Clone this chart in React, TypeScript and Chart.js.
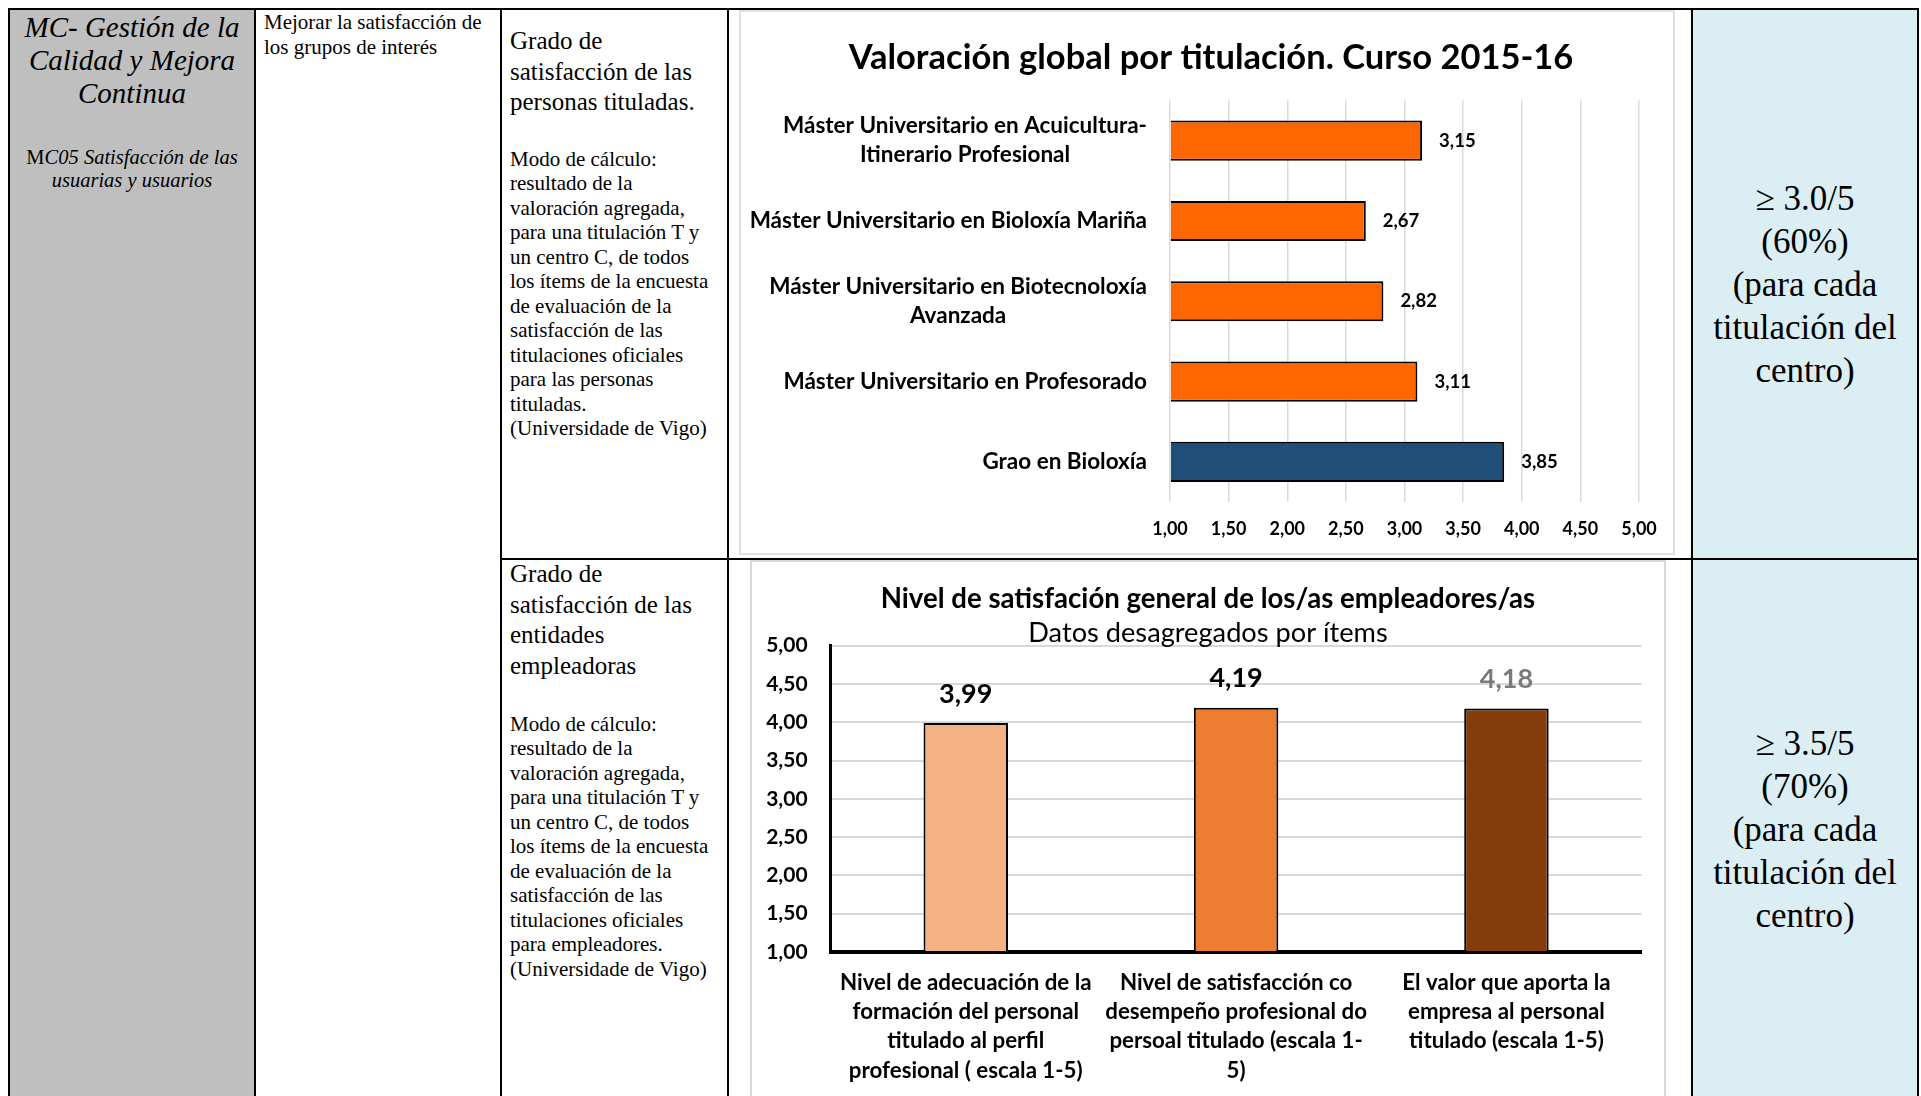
import React, { useEffect, useRef } from "react";
import { Chart, registerables } from "chart.js";
Chart.register(...registerables);

// ---------- Chart 1 data ----------
const T1_TITLE = "Valoración global por titulación. Curso 2015-16";
const T1_LABELS: string[][] = [
  ["Máster Universitario en Acuicultura-", "Itinerario Profesional"],
  ["Máster Universitario en Bioloxía Mariña"],
  ["Máster Universitario en Biotecnoloxía", "Avanzada"],
  ["Máster Universitario en Profesorado"],
  ["Grao en Bioloxía"],
];
const T1_VALUES = [3.15, 2.67, 2.82, 3.11, 3.85];
const T1_COLORS = ["#FF6600", "#FF6600", "#FF6600", "#FF6600", "#1F4E79"];
const T1_TICKS = ["1,00", "1,50", "2,00", "2,50", "3,00", "3,50", "4,00", "4,50", "5,00"];

// ---------- Chart 2 data ----------
const T2_TITLE = "Nivel de satisfación general de los/as empleadores/as";
const T2_SUBTITLE = "Datos desagregados por ítems";
const T2_LABELS: string[][] = [
  ["Nivel de adecuación de la", "formación del personal", "titulado al perfil", "profesional ( escala 1-5)"],
  ["Nivel de satisfacción co", "desempeño profesional do", "persoal titulado (escala 1-", "5)"],
  ["El valor que aporta la", "empresa al personal", "titulado (escala 1-5)"],
];
const T2_VALUES = [3.99, 4.19, 4.18];
const T2_COLORS = ["#F4B183", "#ED7D31", "#843C0C"];
const T2_VALUE_COLORS = ["#000000", "#000000", "#7A7A7A"];
const T2_TICKS = ["1,00", "1,50", "2,00", "2,50", "3,00", "3,50", "4,00", "4,50", "5,00"];

const fmt = (v: number) => v.toFixed(2).replace(".", ",");
const CF = "Lato, 'Open Sans', sans-serif";

const chart1Labels = {
  id: "c1labels",
  afterDatasetsDraw(chart: any) {
    const ctx = chart.ctx;
    const meta = chart.getDatasetMeta(0);
    const yScale = chart.scales.y;
    ctx.save();
    ctx.fillStyle = "#000";
    ctx.font = `bold 18.5px ${CF}`;
    ctx.textBaseline = "middle";
    ctx.textAlign = "left";
    meta.data.forEach((bar: any, i: number) => {
      ctx.fillText(fmt(T1_VALUES[i]), bar.x + 17, bar.y);
    });
    ctx.font = `bold 22.5px ${CF}`;
    ctx.textAlign = "center";
    const right = chart.chartArea.left - 23;
    const lh = 29;
    T1_LABELS.forEach((lines, i) => {
      const y = yScale.getPixelForValue(i);
      const w = Math.max(...lines.map((l) => ctx.measureText(l).width));
      const cx = right - w / 2;
      lines.forEach((line, j) => ctx.fillText(line, cx, y + (j - (lines.length - 1) / 2) * lh));
    });
    ctx.restore();
  },
};

const chart2Labels = {
  id: "c2labels",
  afterLayout(chart: any) {
    // center title and subtitle on the whole canvas width
    chart.boxes.forEach((b: any) => {
      if (!b.axis && b.options && typeof b.options.text === "string") {
        b.left = 0;
        b.right = chart.width;
      }
    });
  },
  afterDatasetsDraw(chart: any) {
    const ctx = chart.ctx;
    const meta = chart.getDatasetMeta(0);
    ctx.save();
    ctx.font = `bold 27px ${CF}`;
    ctx.textBaseline = "middle";
    ctx.textAlign = "center";
    meta.data.forEach((bar: any, i: number) => {
      ctx.fillStyle = T2_VALUE_COLORS[i];
      ctx.fillText(fmt(T2_VALUES[i]), bar.x, bar.y - 29);
    });
    ctx.restore();
  },
};

const serif = '"Liberation Serif", "Times New Roman", serif';

export default function App() {
  const c1 = useRef<HTMLCanvasElement>(null);
  const c2 = useRef<HTMLCanvasElement>(null);

  useEffect(() => {
    const ch1 = new Chart(c1.current as HTMLCanvasElement, {
      type: "bar",
      data: {
        labels: T1_LABELS.map((l) => l.join(" ")),
        datasets: [
          {
            data: T1_VALUES,
            backgroundColor: T1_COLORS,
            borderColor: "#000",
            borderWidth: 2,
            base: 1,
            barPercentage: 0.5,
            categoryPercentage: 1,
          } as any,
        ],
      },
      options: {
        indexAxis: "y",
        responsive: false,
        animation: false,
        devicePixelRatio: 1,
        layout: { padding: { top: 0, left: 42, right: 34, bottom: 0 } },
        plugins: {
          legend: { display: false },
          tooltip: { enabled: false },
          title: {
            display: true,
            text: T1_TITLE,
            color: "#000",
            font: { family: CF, size: 34.5, weight: "bold", lineHeight: 1 },
            padding: { top: 28.35, bottom: 25.65 },
          },
        },
        scales: {
          x: {
            min: 1,
            max: 5,
            ticks: {
              stepSize: 0.5,
              padding: 16,
              color: "#000",
              font: { family: CF, size: 18, weight: "bold" },
              callback: (_v: any, i: number) => T1_TICKS[i],
            },
            grid: { color: "#d9d9d9", lineWidth: 1.5, drawTicks: false },
            border: { display: false },
            afterFit: (s: any) => {
              s.height = 51;
              s.paddingLeft = 0;
              s.paddingRight = 0;
            },
          },
          y: {
            ticks: { display: false },
            grid: { display: false, drawTicks: false },
            border: { display: false },
            afterFit: (s: any) => {
              s.width = 387;
              s.paddingTop = 0;
              s.paddingBottom = 0;
            },
          },
        },
      } as any,
      plugins: [chart1Labels],
    });

    const ch2 = new Chart(c2.current as HTMLCanvasElement, {
      type: "bar",
      data: {
        labels: T2_LABELS,
        datasets: [
          {
            data: T2_VALUES,
            backgroundColor: T2_COLORS,
            borderColor: "#000",
            borderWidth: 2,
            base: 1,
            barPercentage: 0.3125,
            categoryPercentage: 1,
          } as any,
        ],
      },
      options: {
        responsive: false,
        animation: false,
        devicePixelRatio: 1,
        layout: { padding: { top: 0, left: 0, right: 22.4, bottom: 0 } },
        plugins: {
          legend: { display: false },
          tooltip: { enabled: false },
          title: {
            display: true,
            text: T2_TITLE,
            color: "#000",
            font: { family: CF, size: 27.6, weight: "bold", lineHeight: 1 },
            padding: { top: 23.2, bottom: 0 },
          },
          subtitle: {
            display: true,
            text: T2_SUBTITLE,
            color: "#000",
            font: { family: CF, size: 27.2, weight: "normal", lineHeight: 0.9 },
            padding: { top: 8.4, bottom: 0 },
          },
        },
        scales: {
          x: {
            ticks: {
              padding: 15.8,
              color: "#000",
              maxRotation: 0,
              autoSkip: false,
              font: { family: CF, size: 22.3, weight: "bold", lineHeight: 1.318 },
            },
            grid: { display: false, drawTicks: false },
            border: { display: true, color: "#000", width: 4 },
            afterFit: (s: any) => {
              s.height = 144;
              s.paddingLeft = 0;
              s.paddingRight = 0;
            },
          },
          y: {
            min: 1,
            max: 5,
            ticks: {
              stepSize: 0.5,
              padding: 23,
              color: "#000",
              font: { family: CF, size: 21, weight: "bold" },
              callback: (_v: any, i: number) => T2_TICKS[i],
            },
            grid: { color: "#d9d9d9", lineWidth: 2, drawTicks: false },
            border: { display: true, color: "#000", width: 3 },
            afterFit: (s: any) => {
              s.width = 78.6;
              s.paddingTop = 0;
              s.paddingBottom = 0;
            },
          },
        },
      } as any,
      plugins: [chart2Labels],
    });

    return () => {
      ch1.destroy();
      ch2.destroy();
    };
  }, []);

  const abs = (l: number, t: number, w: number, h: number, extra: React.CSSProperties = {}): React.CSSProperties => ({
    position: "absolute",
    left: l,
    top: t,
    width: w,
    height: h,
    ...extra,
  });

  const bodyText: React.CSSProperties = {
    fontFamily: serif,
    fontSize: 21,
    lineHeight: "24.5px",
    whiteSpace: "nowrap",
    color: "#000",
  };
  const headText: React.CSSProperties = {
    fontFamily: serif,
    fontSize: 25,
    lineHeight: "30.6px",
    whiteSpace: "nowrap",
    color: "#000",
  };
  const goalText: React.CSSProperties = {
    fontFamily: serif,
    fontSize: 35,
    lineHeight: "43px",
    whiteSpace: "nowrap",
    textAlign: "center",
    color: "#000",
  };

  return (
    <div
      style={{
        position: "fixed",
        left: 0,
        top: 0,
        width: 1921,
        height: 1096,
        overflow: "hidden",
        background: "#fff",
        fontFamily: serif,
      }}
    >
      {/* backgrounds */}
      <div style={abs(10, 10, 244, 1100, { background: "#BFBFBF" })} />
      <div style={abs(1693, 10, 224, 1100, { background: "#DAEEF3" })} />

      {/* table lines */}
      <div style={abs(8, 8, 1911, 2, { background: "#000" })} />
      <div style={abs(8, 8, 2, 1100, { background: "#000" })} />
      <div style={abs(254, 8, 2, 1100, { background: "#000" })} />
      <div style={abs(500, 8, 2, 1100, { background: "#000" })} />
      <div style={abs(727, 8, 2, 1100, { background: "#000" })} />
      <div style={abs(1691, 8, 2, 1100, { background: "#000" })} />
      <div style={abs(1917, 8, 2, 1100, { background: "#000" })} />
      <div style={abs(500, 558, 1419, 2, { background: "#000" })} />

      {/* column 1 */}
      <div style={abs(10, 10.5, 244, 110, { fontFamily: serif, fontStyle: "italic", fontSize: 29, lineHeight: "33px", textAlign: "center", whiteSpace: "nowrap" })}>
        MC- Gestión de la
        <br />
        Calidad y Mejora
        <br />
        Continua
      </div>
      <div style={abs(10, 145.5, 244, 50, { fontFamily: serif, fontSize: 20.5, lineHeight: "23px", textAlign: "center", whiteSpace: "nowrap" })}>
        M<i>C05 Satisfacción de las</i>
        <br />
        <i>usuarias y usuarios</i>
      </div>

      {/* column 2 */}
      <div style={abs(264, 10, 236, 60, bodyText)}>
        Mejorar la satisfacción de
        <br />
        los grupos de interés
      </div>

      {/* column 3, row 1 */}
      <div style={abs(510, 26.3, 215, 100, headText)}>
        Grado de
        <br />
        satisfacción de las
        <br />
        personas tituladas.
      </div>
      <div style={abs(510, 146.75, 215, 300, bodyText)}>
        Modo de cálculo:
        <br />
        resultado de la
        <br />
        valoración agregada,
        <br />
        para una titulación T y
        <br />
        un centro C, de todos
        <br />
        los ítems de la encuesta
        <br />
        de evaluación de la
        <br />
        satisfacción de las
        <br />
        titulaciones oficiales
        <br />
        para las personas
        <br />
        tituladas.
        <br />
        (Universidade de Vigo)
      </div>

      {/* column 3, row 2 */}
      <div style={abs(510, 559.3, 215, 130, headText)}>
        Grado de
        <br />
        satisfacción de las
        <br />
        entidades
        <br />
        empleadoras
      </div>
      <div style={abs(510, 711.75, 215, 280, bodyText)}>
        Modo de cálculo:
        <br />
        resultado de la
        <br />
        valoración agregada,
        <br />
        para una titulación T y
        <br />
        un centro C, de todos
        <br />
        los ítems de la encuesta
        <br />
        de evaluación de la
        <br />
        satisfacción de las
        <br />
        titulaciones oficiales
        <br />
        para empleadores.
        <br />
        (Universidade de Vigo)
      </div>

      {/* column 4: charts */}
      <div style={abs(739, 10, 936, 545, { border: "2px solid #DEE2E8", boxSizing: "border-box", background: "#fff" })} />
      <canvas ref={c1} width={932} height={541} style={{ position: "absolute", left: 741, top: 12, width: 932, height: 541 }} />

      <div style={abs(750, 560, 916, 600, { border: "2px solid #D9D9D9", boxSizing: "border-box", background: "#fff" })} />
      <canvas ref={c2} width={912} height={534} style={{ position: "absolute", left: 752, top: 562, width: 912, height: 534 }} />

      {/* column 5 */}
      <div style={abs(1693, 177, 224, 220, goalText)}>
        ≥ 3.0/5
        <br />
        (60%)
        <br />
        (para cada
        <br />
        titulación del
        <br />
        centro)
      </div>
      <div style={abs(1693, 722, 224, 220, goalText)}>
        ≥ 3.5/5
        <br />
        (70%)
        <br />
        (para cada
        <br />
        titulación del
        <br />
        centro)
      </div>
    </div>
  );
}
